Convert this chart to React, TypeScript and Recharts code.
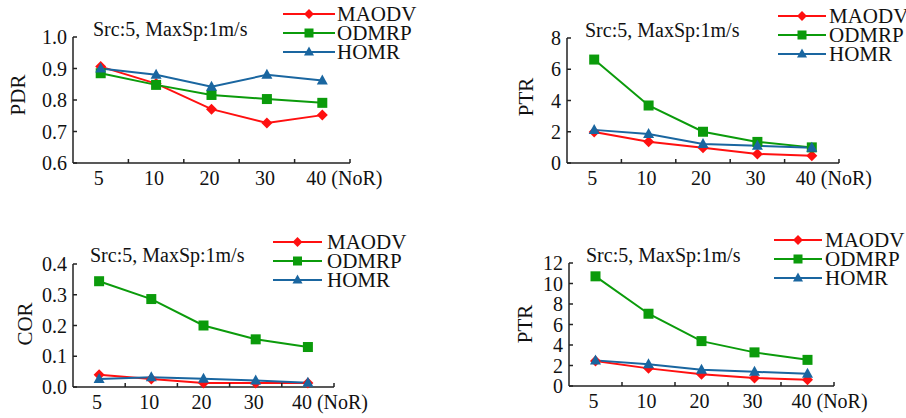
import React from 'react';
import { LineChart, Line, XAxis, YAxis, Legend } from 'recharts';

const categories = ['5', '10', '20', '30', '40'];
const seriesNames = ['MAODV', 'ODMRP', 'HOMR'];

// PDR (top left)
const pdrMaodv = [0.906, 0.852, 0.771, 0.727, 0.752];
const pdrOdmrp = [0.885, 0.848, 0.816, 0.803, 0.791];
const pdrHomr = [0.900, 0.880, 0.842, 0.880, 0.862];

// PTR (top right)
const ptrAMaodv = [1.98, 1.36, 0.97, 0.58, 0.47];
const ptrAOdmrp = [6.62, 3.68, 2.0, 1.35, 1.0];
const ptrAHomr = [2.12, 1.85, 1.22, 1.1, 0.98];

// COR (bottom left)
const corMaodv = [0.040, 0.026, 0.013, 0.013, 0.013];
const corOdmrp = [0.344, 0.286, 0.200, 0.155, 0.130];
const corHomr = [0.026, 0.032, 0.027, 0.021, 0.014];

// PTR (bottom right)
const ptrBMaodv = [2.45, 1.72, 1.15, 0.78, 0.6];
const ptrBOdmrp = [10.7, 7.05, 4.38, 3.28, 2.55];
const ptrBHomr = [2.5, 2.12, 1.58, 1.38, 1.2];

const pdrTicks = [0.6, 0.7, 0.8, 0.9, 1.0];
const ptrATicks = [0, 2, 4, 6, 8];
const corTicks = [0, 0.1, 0.2, 0.3, 0.4];
const ptrBTicks = [0, 2, 4, 6, 8, 10, 12];

const FONT = '"Liberation Serif", "Times New Roman", serif';
const AXIS = '#222';
const TXT = '#111';
const COLORS: Record<string, string> = { MAODV: '#ff1010', ODMRP: '#0b9b0b', HOMR: '#1a66a0' };
const SHAPES: Record<string, string> = { MAODV: 'diamond', ODMRP: 'square', HOMR: 'triangle' };

const BOX_W = 453;
const BOX_H = 209;
const Y_W = 60;
const X_H = 30;

function Marker({ cx, cy, shape, color, size }: any) {
  if (cx == null || cy == null) return null;
  if (shape === 'diamond') {
    const r = size * 0.55;
    return <polygon points={`${cx},${cy - r} ${cx + r},${cy} ${cx},${cy + r} ${cx - r},${cy}`} fill={color} />;
  }
  if (shape === 'square') {
    const h = size / 2;
    return <rect x={cx - h} y={cy - h} width={size} height={size} fill={color} />;
  }
  const h = size / 2;
  return <polygon points={`${cx},${cy - h - 1} ${cx + h + 0.5},${cy + h - 1} ${cx - h - 0.5},${cy + h - 1}`} fill={color} />;
}

function makeRows(a: number[], b: number[], c: number[]) {
  return categories.map((nor, i) => ({ nor, MAODV: a[i], ODMRP: b[i], HOMR: c[i] }));
}

const LegendBox = ({ lineLen, gap }: { lineLen: number; gap: number }) => (
  <div style={{ fontFamily: FONT, fontSize: 21, color: TXT }}>
    {seriesNames.map((n) => (
      <div key={n} style={{ display: 'flex', alignItems: 'center', height: 19, lineHeight: '19px' }}>
        <svg width={lineLen} height={14} style={{ display: 'block' }}>
          <line x1={0} x2={lineLen} y1={7} y2={7} stroke={COLORS[n]} strokeWidth={2} />
          <Marker cx={lineLen / 2} cy={7} shape={SHAPES[n]} color={COLORS[n]} size={9} />
        </svg>
        <span style={{ marginLeft: gap }}>{n}</span>
      </div>
    ))}
  </div>
);

interface PanelProps {
  x0: number;
  y0: number;
  plot: { L: number; T: number; R: number; B: number };
  rows: any[];
  domain: [number, number];
  ticks: number[];
  fmt: (v: number) => string;
  yLabel: string;
  yLabelPos: [number, number];
  title: [number, number];
  legend: { left: number; top: number; lineLen: number; gap: number };
}

function Panel({ x0, y0, plot, rows, domain, ticks, fmt, yLabel, yLabelPos, title, legend }: PanelProps) {
  const L = plot.L - x0;
  const B = plot.B - y0;
  const band = (plot.R - plot.L) / categories.length;
  const margin = {
    left: plot.L - x0 - Y_W,
    top: plot.T - y0,
    right: x0 + BOX_W - plot.R,
    bottom: y0 + BOX_H - plot.B - X_H,
  };

  const XTick = (p: any) => {
    const { x, payload } = p;
    const last = payload.value === '40';
    return (
      <g>
        <line x1={x + band / 2} x2={x + band / 2} y1={B} y2={B - 4} stroke={AXIS} strokeWidth={1.5} />
        {last ? (
          <text x={x - 16} y={B + 22} textAnchor="start" fontFamily={FONT} fontSize={20} fill={TXT}>40 (NoR)</text>
        ) : (
          <text x={x - 2} y={B + 22} textAnchor="middle" fontFamily={FONT} fontSize={20} fill={TXT}>{payload.value}</text>
        )}
      </g>
    );
  };

  const YTick = (p: any) => {
    const { y, payload } = p;
    return (
      <g>
        <line x1={L} x2={L + 4} y1={y} y2={y} stroke={AXIS} strokeWidth={1.5} />
        <text x={L - 6} y={y} dy="0.35em" textAnchor="end" fontFamily={FONT} fontSize={20} fill={TXT}>{fmt(payload.value)}</text>
      </g>
    );
  };

  return (
    <div style={{ position: 'absolute', left: x0, top: y0, width: BOX_W, height: BOX_H }}>
      <LineChart width={BOX_W} height={BOX_H} data={rows} margin={margin}>
        <XAxis
          dataKey="nor"
          height={X_H}
          stroke={AXIS}
          strokeWidth={1.5}
          tickLine={false}
          tick={XTick}
          interval={0}
          padding={{ left: band / 2, right: band / 2 }}
        />
        <YAxis
          width={Y_W}
          domain={domain}
          ticks={ticks}
          stroke={AXIS}
          strokeWidth={1.5}
          tickLine={false}
          tick={YTick}
          interval={0}
          label={{
            content: () => (
              <text
                x={yLabelPos[0] - x0}
                y={yLabelPos[1] - y0}
                transform={`rotate(-90 ${yLabelPos[0] - x0} ${yLabelPos[1] - y0})`}
                textAnchor="middle"
                dy="0.35em"
                fontFamily={FONT}
                fontSize={21}
                fill={TXT}
              >
                {yLabel}
              </text>
            ),
          }}
        />
        <Legend
          layout="vertical"
          align="center"
          verticalAlign="middle"
          wrapperStyle={{ left: legend.left, top: legend.top, width: 'auto' }}
          content={() => <LegendBox lineLen={legend.lineLen} gap={legend.gap} />}
        />
        {seriesNames.map((n) => (
          <Line
            key={n}
            type="linear"
            dataKey={n}
            stroke={COLORS[n]}
            strokeWidth={2}
            isAnimationActive={false}
            dot={(d: any) => <Marker key={`${n}-${d.index}`} cx={d.cx} cy={d.cy} shape={SHAPES[n]} color={COLORS[n]} size={10} />}
            activeDot={false}
          />
        ))}
      </LineChart>
      <div
        style={{
          position: 'absolute',
          left: title[0] - x0,
          top: title[1] - y0 - 16,
          fontFamily: FONT,
          fontSize: 20,
          lineHeight: '19px',
          color: TXT,
          whiteSpace: 'nowrap',
        }}
      >
        Src:5, MaxSp:1m/s
      </div>
    </div>
  );
}

const f1 = (v: number) => v.toFixed(1);
const f0 = (v: number) => String(v);

export default function App() {
  return (
    <div style={{ position: 'absolute', left: 0, top: 0, width: 906, height: 418, background: '#fff', overflow: 'hidden' }}>
      <Panel
        x0={0}
        y0={0}
        plot={{ L: 73, T: 37, R: 350, B: 163 }}
        rows={makeRows(pdrMaodv, pdrOdmrp, pdrHomr)}
        domain={[0.6, 1.0]}
        ticks={pdrTicks}
        fmt={f1}
        yLabel="PDR"
        yLabelPos={[18, 95]}
        title={[93, 36]}
        legend={{ left: 283, top: 4.5, lineLen: 52, gap: 2 }}
      />
      <Panel
        x0={453}
        y0={0}
        plot={{ L: 567, T: 38, R: 839, B: 163 }}
        rows={makeRows(ptrAMaodv, ptrAOdmrp, ptrAHomr)}
        domain={[0, 8]}
        ticks={ptrATicks}
        fmt={f0}
        yLabel="PTR"
        yLabelPos={[526, 97]}
        title={[585, 37]}
        legend={{ left: 325, top: 6.5, lineLen: 48, gap: 3 }}
      />
      <Panel
        x0={0}
        y0={209}
        plot={{ L: 73, T: 264, R: 334, B: 387 }}
        rows={makeRows(corMaodv, corOdmrp, corHomr)}
        domain={[0, 0.4]}
        ticks={corTicks}
        fmt={f1}
        yLabel="COR"
        yLabelPos={[25, 324]}
        title={[90, 262]}
        legend={{ left: 273, top: 23.5, lineLen: 49, gap: 5 }}
      />
      <Panel
        x0={453}
        y0={209}
        plot={{ L: 569, T: 263, R: 834, B: 386 }}
        rows={makeRows(ptrBMaodv, ptrBOdmrp, ptrBHomr)}
        domain={[0, 12]}
        ticks={ptrBTicks}
        fmt={f0}
        yLabel="PTR"
        yLabelPos={[525, 324]}
        title={[586, 262]}
        legend={{ left: 321, top: 21.5, lineLen: 48, gap: 3 }}
      />
    </div>
  );
}
